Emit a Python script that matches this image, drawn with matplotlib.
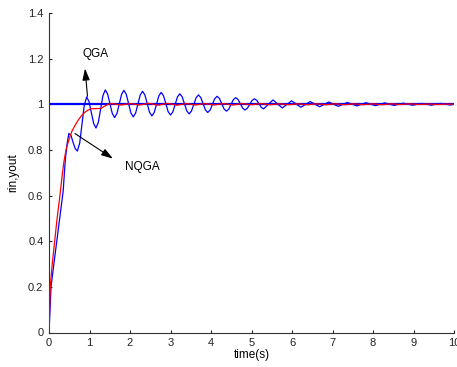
import numpy as np
import matplotlib
matplotlib.use("Agg")
import matplotlib.pyplot as plt

plt.rcParams['font.family'] = ['Liberation Sans', 'DejaVu Sans']

# reference input
rin_t = [0, 10]
rin_v = [1.0, 1.0]

# QGA response (blue) - early rise
blue_t_early = [0, 0.05, 0.12, 0.20, 0.27, 0.35, 0.40, 0.44, 0.49, 0.54, 0.60, 0.65]
blue_v_early = [0, 0.20, 0.30, 0.41, 0.51, 0.62, 0.75, 0.82, 0.872, 0.865, 0.83, 0.805]
# oscillation part, sampled every 0.0575 s from 0.70 s
blue_v_osc1 = [
    0.795, 0.8297, 0.9135, 0.9973,
    1.032, 1.012, 0.964, 0.916,
    0.896, 0.9205, 0.9795, 1.0385,
    1.063, 1.045, 1.0025, 0.960,
    0.942, 0.9595, 1.0015, 1.0435,
    1.061, 1.044, 1.003, 0.962,
    0.945, 0.961, 1.001, 1.041,
    1.057, 1.041, 1.003, 0.965,
    0.949, 0.964, 1.0005, 1.037,
    1.052, 1.0375, 1.0025, 0.9675,
    0.953, 0.9665, 0.9995, 1.0325,
    1.046, 1.033, 1.002, 0.971,
    0.958, 0.9705, 0.9995, 1.0285,
    1.041, 1.0295, 1.0025, 0.9755,
    0.964, 0.9745, 0.9995, 1.0245,
    1.035, 1.0255, 1.0025, 0.9795,
    0.970, 0.9785, 0.9995, 1.0205,
    1.029, 1.021, 1.002, 0.983,
    0.975, 0.9825, 0.9995, 1.0165,
    1.024, 1.0176, 1.002, 0.9864,
]
# later part, sampled every 0.115 s from 5.30 s
blue_v_osc2 = [
    0.980, 0.9995, 1.019, 1.0015, 0.984, 0.9995, 1.015, 1.001, 0.987, 0.9995,
    1.012, 1.0005, 0.989, 0.9995, 1.010, 1.0005, 0.991, 0.9995, 1.008, 1.0005,
    0.993, 1.000, 1.007, 1.0005, 0.994, 1.000, 1.006, 1.0005, 0.995, 1.000,
    1.005, 1.0005, 0.996, 1.000, 1.004, 1.000, 0.996, 1.000, 1.004, 1.0005,
    0.997, 1.000, 1.003,
]

# NQGA response (red)
red_t_early = [0, 0.03, 0.08, 0.14, 0.20, 0.27, 0.32, 0.37, 0.42, 0.50, 0.56, 0.62,
               0.70, 0.80, 0.90, 0.97, 1.03, 1.15, 1.28, 1.36, 1.46, 1.55]
red_v_early = [0, 0.20, 0.30, 0.40, 0.50, 0.60, 0.68, 0.75, 0.80, 0.85, 0.88, 0.90,
               0.925, 0.95, 0.967, 0.975, 0.980, 0.981, 0.982, 0.990, 1.000, 1.003]
# small ripple, sampled every 0.23 s from 1.78 s
red_v_ripple = [0.997, 1.003, 0.997, 1.004, 0.996, 1.004, 0.996, 1.003, 0.997, 1.003,
                0.997, 1.003, 0.997, 1.003, 0.998, 1.003, 0.998, 1.002, 0.998, 1.002,
                0.998, 1.002, 0.998, 1.002, 0.998, 1.002, 0.998, 1.002, 0.998, 1.002,
                0.999, 1.002, 0.999, 1.001, 0.999, 1.001]
red_t_end = [10.0]
red_v_end = [1.0]

xticks = list(range(0, 11))
yticks = [0, 0.2, 0.4, 0.6, 0.8, 1.0, 1.2, 1.4]
ytick_labels = ['0', '0.2', '0.4', '0.6', '0.8', '1', '1.2', '1.4']

# assemble time grids
blue_t = np.concatenate([blue_t_early,
                         0.70 + 0.0575 * np.arange(len(blue_v_osc1)),
                         5.30 + 0.115 * np.arange(len(blue_v_osc2))])
blue_v = np.concatenate([blue_v_early, blue_v_osc1, blue_v_osc2])
red_t = np.concatenate([red_t_early, 1.78 + 0.23 * np.arange(len(red_v_ripple)), red_t_end])
red_v = np.concatenate([red_v_early, red_v_ripple, red_v_end])

fig = plt.figure(figsize=(4.57, 3.67), dpi=100)
ax = fig.add_axes([49 / 457, 1 - 332.5 / 367, (454 - 49) / 457, (332.5 - 13) / 367])

ax.plot(rin_t, rin_v, color=(0, 0, 1), lw=1.6, zorder=2)
ax.plot(blue_t, blue_v, color=(0, 0, 1), lw=0.9, zorder=3)
ax.plot(red_t, red_v, color=(1, 0, 0), lw=0.9, zorder=4)

ax.set_xlim(0, 10)
ax.set_ylim(0, 1.4)
ax.set_xticks(xticks)
ax.set_yticks(yticks)
ax.set_yticklabels(ytick_labels)
ax.tick_params(direction='in', length=2.5, width=0.8, labelsize=8, pad=4, colors='#222222')
ax.spines['top'].set_visible(False)
ax.spines['right'].set_visible(False)
for s in ['left', 'bottom']:
    ax.spines[s].set_color('#333333')
    ax.spines[s].set_linewidth(0.8)

ax.set_xlabel('time(s)', fontsize=8.5, labelpad=1)
ax.set_ylabel('rin,yout', fontsize=8.5, labelpad=6)

arrow = dict(arrowstyle='-|>,head_length=0.7,head_width=0.22', color='k', lw=0.8,
             shrinkA=0, shrinkB=0)
ax.annotate('', xy=(0.89, 1.157), xytext=(0.95, 1.035), arrowprops=arrow)
ax.annotate('', xy=(1.58, 0.762), xytext=(0.64, 0.872), arrowprops=arrow)
ax.text(1.14, 1.222, 'QGA', fontsize=8.5, ha='center', va='center')
ax.text(2.30, 0.724, 'NQGA', fontsize=8.5, ha='center', va='center')

fig.savefig('out.png', dpi=100)
